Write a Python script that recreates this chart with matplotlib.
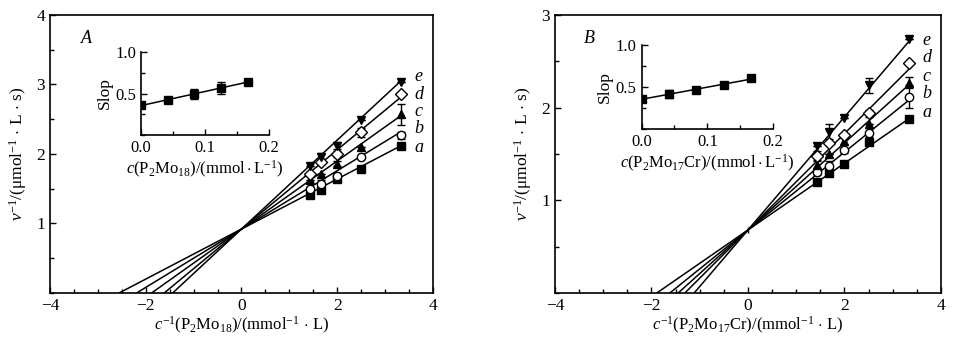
import numpy as np
import matplotlib
matplotlib.use('Agg')
import matplotlib.pyplot as plt
from matplotlib.ticker import MultipleLocator, FormatStrFormatter

plt.rcParams['font.family'] = ['Liberation Serif', 'DejaVu Serif']
plt.rcParams['mathtext.fontset'] = 'custom'
plt.rcParams['mathtext.rm'] = 'Liberation Serif'
plt.rcParams['mathtext.it'] = 'Liberation Serif:italic'
plt.rcParams['font.size'] = 12

# reciprocal substrate concentration, mmol^-1 L
inv_c = [1.43, 1.67, 2.0, 2.5, 3.33]
curve_names = ['a', 'b', 'c', 'd', 'e']
markers = ['s', 'o', '^', 'D', 'v']
fills = ['k', 'w', 'k', 'w', 'k']

# inhibitor concentration used for curves a-e, mmol/L
inhib_c = [0.0, 0.042, 0.083, 0.125, 0.167]

# panel A: P2Mo18
inv_v_A = [
    [1.41, 1.48, 1.64, 1.79, 2.11],
    [1.49, 1.57, 1.69, 1.96, 2.27],
    [1.63, 1.71, 1.86, 2.10, 2.57],
    [1.71, 1.89, 2.00, 2.31, 2.86],
    [1.82, 1.95, 2.12, 2.49, 3.03],
]
err_A = [
    [0.0, 0.03, 0.0, 0.0, 0.0],
    [0.04, 0.05, 0.03, 0.0, 0.05],
    [0.0, 0.0, 0.04, 0.0, 0.15],
    [0.0, 0.04, 0.04, 0.06, 0.0],
    [0.0, 0.07, 0.05, 0.0, 0.0],
]
slope_A = [0.36, 0.42, 0.49, 0.57, 0.64]
slope_err_A = [0.0, 0.0, 0.06, 0.07, 0.0]
icpt_A = 0.92
label_y_A = [2.10, 2.36, 2.61, 2.86, 3.11]

# panel B: P2Mo17Cr
inv_v_B = [
    [1.20, 1.30, 1.39, 1.63, 1.88],
    [1.31, 1.37, 1.54, 1.73, 2.12],
    [1.38, 1.50, 1.64, 1.82, 2.27],
    [1.48, 1.62, 1.70, 1.94, 2.48],
    [1.59, 1.74, 1.89, 2.24, 2.74],
]
err_B = [
    [0.0, 0.0, 0.0, 0.03, 0.0],
    [0.04, 0.05, 0.03, 0.05, 0.12],
    [0.04, 0.0, 0.04, 0.0, 0.06],
    [0.05, 0.0, 0.03, 0.04, 0.0],
    [0.0, 0.08, 0.0, 0.08, 0.0],
]
slope_B = [0.36, 0.42, 0.47, 0.52, 0.61]
slope_err_B = [0.0, 0.05, 0.0, 0.0, 0.0]
icpt_B = 0.68
label_y_B = [1.95, 2.15, 2.34, 2.54, 2.73]

ylab = r'$\mathit{v}^{-1}/(\mathrm{μmol}^{-1}\,\cdot\,\mathrm{L}\,\cdot\,\mathrm{s})$'


def style_main(ax, ymax):
    ax.set_xlim(-4, 4)
    ax.set_ylim(0, ymax)
    ax.xaxis.set_major_locator(MultipleLocator(2))
    ax.xaxis.set_minor_locator(MultipleLocator(0.5))
    ax.yaxis.set_minor_locator(MultipleLocator(0.5))
    ax.set_yticks(np.arange(1, ymax + 0.1, 1))
    ax.tick_params(which='both', direction='in', width=1, labelsize=12.5)
    ax.tick_params(which='major', length=4)
    ax.tick_params(which='minor', length=3)
    for s in ax.spines.values():
        s.set_linewidth(1.2)


def draw_panel(ax, inv_v, err, slopes, icpt, label_y):
    for i in range(5):
        k = slopes[i]
        x0 = -icpt / k
        xs = np.array([x0, inv_c[-1]])
        ax.plot(xs, icpt + k * xs, color='k', lw=1.1)
        ax.errorbar(inv_c, inv_v[i], yerr=err[i], fmt=markers[i], ms=6,
                    mfc=fills[i], mec='k', ecolor='k', elinewidth=1,
                    capsize=3, mew=1, zorder=3)
        ax.text(3.62, label_y[i], curve_names[i], style='italic',
                ha='left', va='center', fontsize=13)


def draw_inset(ax, slopes, serr, xlabel):
    fit = np.polyfit(inhib_c, slopes, 1)
    xs = np.array([0.0, inhib_c[-1]])
    ax.plot(xs, np.polyval(fit, xs), color='k', lw=1.1)
    ax.errorbar(inhib_c, slopes, yerr=serr, fmt='s', ms=6, mfc='k', mec='k',
                ecolor='k', capsize=3, elinewidth=1, zorder=3)
    ax.set_xlim(0, 0.2)
    ax.set_ylim(0, 1.0)
    ax.set_xticks([0.0, 0.1, 0.2])
    ax.set_yticks([0.5, 1.0])
    ax.xaxis.set_minor_locator(MultipleLocator(0.05))
    ax.yaxis.set_minor_locator(MultipleLocator(0.25))
    ax.xaxis.set_major_formatter(FormatStrFormatter('%.1f'))
    ax.yaxis.set_major_formatter(FormatStrFormatter('%.1f'))
    ax.tick_params(which='both', direction='in', width=1, labelsize=12)
    ax.tick_params(which='major', length=4)
    ax.tick_params(which='minor', length=3)
    ax.spines['top'].set_visible(False)
    ax.spines['right'].set_visible(False)
    ax.spines['left'].set_linewidth(1.2)
    ax.spines['bottom'].set_linewidth(1.2)
    ax.set_ylabel('Slop', labelpad=2, fontsize=12.5)
    ax.set_xlabel(xlabel, labelpad=2, fontsize=12)
    ax.patch.set_alpha(0)


fig = plt.figure(figsize=(9.59, 3.43), dpi=100)

axA = fig.add_axes([0.0521, 0.1458, 0.3994, 0.8105])
style_main(axA, 4)
draw_panel(axA, inv_v_A, err_A, slope_A, icpt_A, label_y_A)
axA.set_xlabel(r'$\mathit{c}^{-1}(\mathrm{P_2Mo_{18}})/(\mathrm{mmol}^{-1}\,\cdot\,\mathrm{L})$', labelpad=1, fontsize=12)
axA.set_ylabel(ylab, labelpad=5, fontsize=12.5)
axA.text(-3.35, 3.6, 'A', style='italic', fontsize=13)

insA = fig.add_axes([0.147, 0.6064, 0.1335, 0.242])
draw_inset(insA, slope_A, slope_err_A, r'$\mathit{c}(\mathrm{P_2Mo_{18}})/(\mathrm{mmol}\cdot\mathrm{L}^{-1})$')

axB = fig.add_axes([0.5787, 0.1458, 0.4025, 0.8105])
style_main(axB, 3)
draw_panel(axB, inv_v_B, err_B, slope_B, icpt_B, label_y_B)
axB.errorbar([0], [icpt_B], yerr=[0.03], fmt='none', ecolor='k', elinewidth=1, capsize=0)
axB.set_xlabel(r'$\mathit{c}^{-1}(\mathrm{P_2Mo_{17}Cr})/(\mathrm{mmol}^{-1}\,\cdot\,\mathrm{L})$', labelpad=1, fontsize=12)
axB.set_ylabel(ylab, labelpad=5, fontsize=12.5)
axB.text(-3.4, 2.7, 'B', style='italic', fontsize=13)

insB = fig.add_axes([0.669, 0.623, 0.1372, 0.2458])
draw_inset(insB, slope_B, slope_err_B, r'$\mathit{c}(\mathrm{P_2Mo_{17}Cr})/(\mathrm{mmol}\cdot\mathrm{L}^{-1})$')

fig.savefig('out.png', dpi=100)
